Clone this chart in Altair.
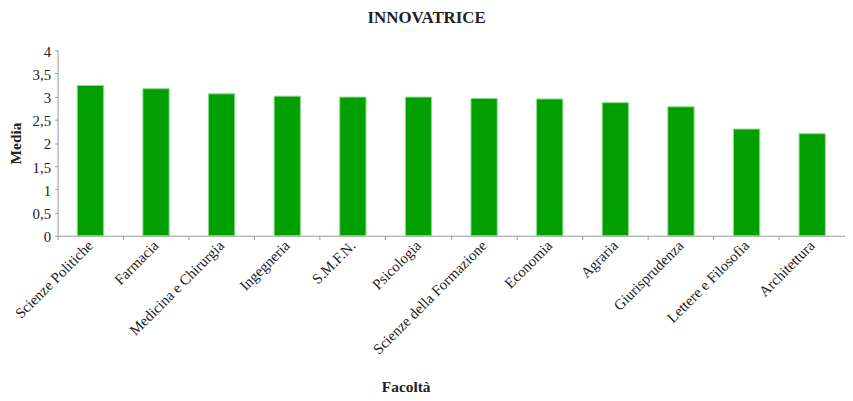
import altair as alt
import pandas as pd

facolta = ["Scienze Politiche", "Farmacia", "Medicina e Chirurgia", "Ingegneria", "S.M.F.N.",
           "Psicologia", "Scienze della Formazione", "Economia", "Agraria", "Giurisprudenza",
           "Lettere e Filosofia", "Architettura"]
media = [3.24, 3.17, 3.06, 3.01, 2.99, 2.99, 2.96, 2.95, 2.87, 2.78, 2.30, 2.20]
y_ticks = [0, 0.5, 1, 1.5, 2, 2.5, 3, 3.5, 4]

df = pd.DataFrame({"Facoltà": facolta, "Media": media})
FONT = "Liberation Serif"

chart = alt.Chart(df).mark_bar(
    color="#00a000", stroke="#8fd88f", strokeWidth=1, width={"band": 0.4}
).encode(
    x=alt.X("Facoltà:N", sort=facolta, scale=alt.Scale(paddingInner=0, paddingOuter=0),
            axis=alt.Axis(title="Facoltà", labelAngle=-45, labelAlign="right", labelBaseline="middle",
                          bandPosition=0, domainColor="#999999", tickColor="#999999",
                          tickSize=4, labelPadding=3, labelFontSize=15, labelFont=FONT,
                          labelColor="#222222", titleFont=FONT, titleFontSize=15.5,
                          titleFontWeight="bold", titleColor="#222222",
                          titleX=351, titleY=145, titleBaseline="top", titleAnchor="middle")),
    y=alt.Y("Media:Q", scale=alt.Scale(domain=[0, 4]),
            axis=alt.Axis(title="Media", values=y_ticks, grid=False, format="~g",
                          labelExpr="replace(datum.label, '.', ',')",
                          domainColor="#999999", tickColor="#999999", tickSize=3,
                          labelFontSize=15, labelFont=FONT, labelColor="#222222",
                          labelPadding=4, labelOffset=1, titleFont=FONT, titleFontSize=15.5,
                          titleFontWeight="bold", titleColor="#222222", titlePadding=9)),
).properties(
    width=794, height=187,
    padding={"left": 0, "top": 0, "right": 0, "bottom": 0},
    title=alt.TitleParams("INNOVATRICE", font=FONT, fontSize=17, fontWeight="bold",
                          color="#222222", anchor="middle", frame="bounds", offset=17),
).configure_view(stroke=None)

chart.save("out.html", embed_options={"renderer": "svg", "actions": False})
